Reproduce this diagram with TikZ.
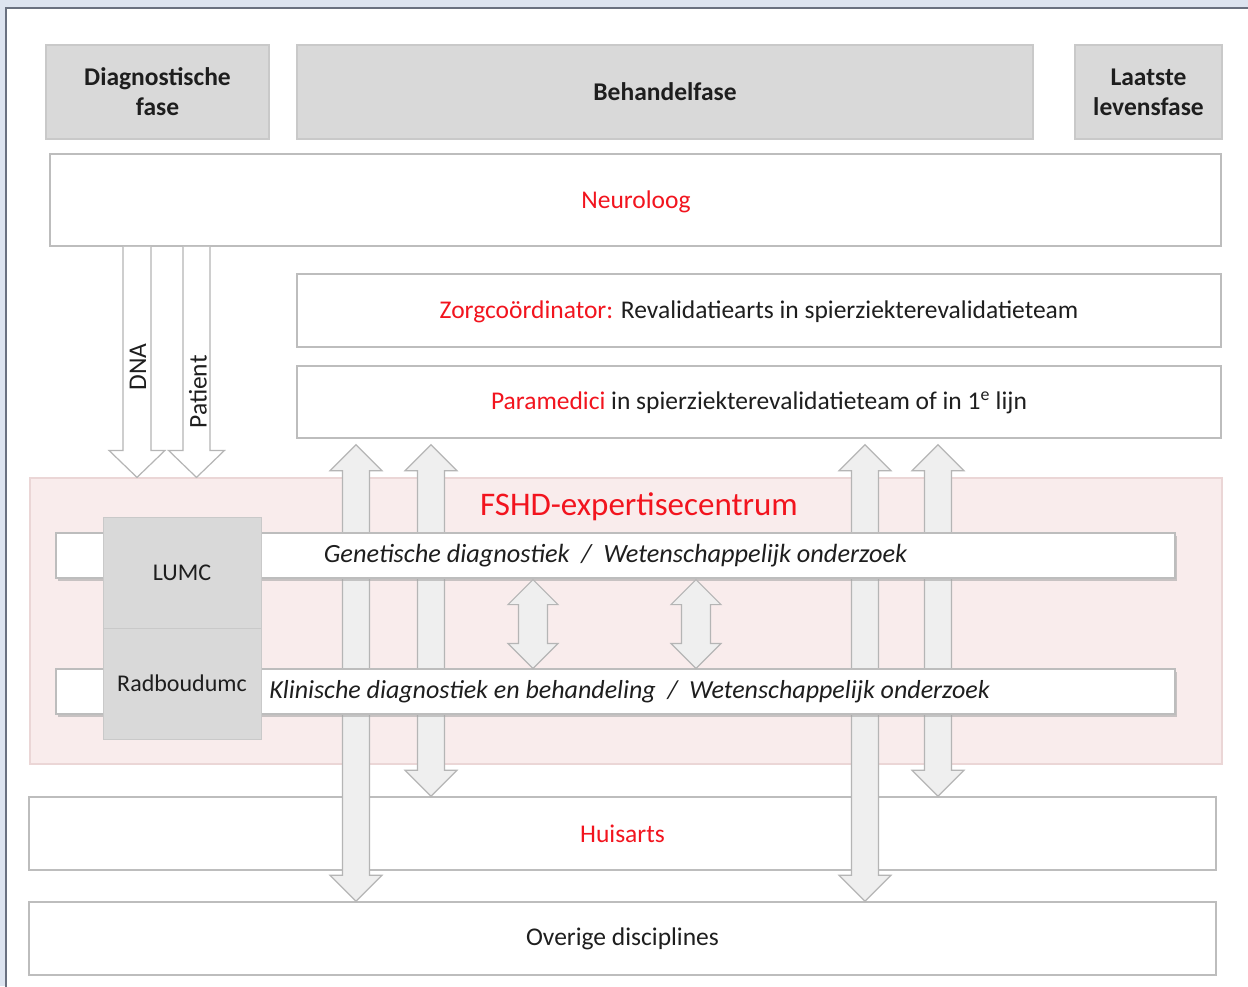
\documentclass[tikz,border=0pt]{standalone}
\usepackage{fontspec}
\setmainfont{Carlito}
\usetikzlibrary{calc,shadows}
\definecolor{bgblue}{HTML}{DDE4F0}
\definecolor{panelline}{HTML}{6A7180}
\definecolor{phasegray}{HTML}{D9D9D9}
\definecolor{phaseline}{HTML}{C9C9C9}
\definecolor{boxline}{HTML}{BDBDBD}
\definecolor{pinkbg}{HTML}{F9ECEC}
\definecolor{pinkline}{HTML}{EBD6D6}
\definecolor{arrfill}{HTML}{EFEFEF}
\definecolor{arrline}{HTML}{B5B5B5}
\definecolor{redtxt}{HTML}{F2141E}
\definecolor{txt}{HTML}{1E1E1E}
\newcommand{\dblarr}[5]{%
  \draw[arrowbox] (#1) -- ($(#1)+(#3,#5)$) -- ($(#1)+(#4,#5)$) -- ($(#2)+(#4,-#5)$) -- ($(#2)+(#3,-#5)$) -- (#2) -- ($(#2)+(-#3,-#5)$) -- ($(#2)+(-#4,-#5)$) -- ($(#1)+(-#4,#5)$) -- ($(#1)+(-#3,#5)$) -- cycle;}
\newcommand{\downarr}[5]{%
  \draw[whitearrow] ($(#1)+(-#4,0)$) -- ($(#2)+(-#4,-#5)$) -- ($(#2)+(-#3,-#5)$) -- (#2) -- ($(#2)+(#3,-#5)$) -- ($(#2)+(#4,-#5)$) -- ($(#1)+(#4,0)$);}
\begin{document}
\begin{tikzpicture}[x=1pt,y=-1pt,
  every node/.style={text=txt, font=\fontsize{25.5}{30}\selectfont},
  phase/.style={draw=phaseline, fill=phasegray, line width=1.2pt, inner sep=0pt, align=center, font=\bfseries\fontsize{25.5}{30}\selectfont},
  wbox/.style={draw=boxline, fill=white, line width=1.5pt, inner sep=0pt},
  strip/.style={draw=boxline, fill=white, line width=1.2pt, inner sep=0pt, drop shadow={shadow xshift=1.5pt, shadow yshift=-2.5pt, fill=black!35, opacity=0.6}},
  inst/.style={draw=phaseline, fill=phasegray, line width=1pt, inner sep=0pt, font=\fontsize{24}{28}\selectfont},
  arrowbox/.style={draw=arrline, fill=arrfill, line width=1.2pt, line join=miter},
  whitearrow/.style={draw=arrline, fill=white, line width=1.2pt, line join=miter},
  lbl/.style={inner sep=0pt}
]
\useasboundingbox (0,0) rectangle (1248,986);
\clip (0,0) rectangle (1248,986);
\fill[bgblue] (0,0) rectangle (1248,986);
\draw[panelline, fill=white, line width=1.2pt] (6,8) rectangle (1270,1010);

% phases
\node[phase, minimum width=223pt, minimum height=94pt] (diag) at (157.5,92) {Diagnostische\\fase};
\node[phase, minimum width=736pt, minimum height=94pt] (beh) at (665,92) {Behandelfase};
\node[phase, minimum width=147pt, minimum height=94pt] (laat) at (1148.5,92) {Laatste\\levensfase};

% rows
\node[wbox, minimum width=1171pt, minimum height=92pt] (neuro) at (635.5,200) {};
\node[lbl, text=redtxt] (neurotxt) at (636,202) {Neuroloog};
\node[wbox, minimum width=924pt, minimum height=73pt] (zorg) at (759,310.5) {};
\node[lbl] (zorgtxt) at (759,312) {\textcolor{redtxt}{Zorgcoördinator:} Revalidatiearts in spierziekterevalidatieteam};
\node[wbox, minimum width=924pt, minimum height=72pt] (para) at (759,402) {};
\node[lbl] (paratxt) at (759,403) {\textcolor{redtxt}{Paramedici} in spierziekterevalidatieteam of in 1\textsuperscript{e} lijn};

\node[draw=pinkline, fill=pinkbg, line width=1.2pt, minimum width=1192pt, minimum height=286pt, inner sep=0pt] (fshd) at (626,621) {};

\node[wbox, minimum width=1187pt, minimum height=73pt] (huis) at (622.5,833.5) {\textcolor{redtxt}{Huisarts}};
\node[wbox, minimum width=1187pt, minimum height=73pt] (over) at (622.5,938.5) {Overige disciplines};

% DNA / Patient arrows
\coordinate (dnaT) at (137,0 |- neuro.south);
\coordinate (dnaB) at (137,0 |- fshd.north);
\coordinate (patT) at (196.5,0 |- neuro.south);
\coordinate (patB) at (196.5,0 |- fshd.north);
\downarr{dnaT}{dnaB}{28}{14}{27}
\downarr{patT}{patB}{28}{13.5}{27}
\node[rotate=90] (dna) at (138,367) {DNA};
\node[rotate=90] (pat) at (198,392) {Patient};

% long double arrows
\coordinate (a1t) at ($(356,0 |- para.south)+(0,6)$);
\coordinate (a1b) at (356,0 |- over.north);
\coordinate (a2t) at ($(431,0 |- para.south)+(0,6)$);
\coordinate (a2b) at (431,0 |- huis.north);
\coordinate (a3t) at ($(865,0 |- para.south)+(0,6)$);
\coordinate (a3b) at (865,0 |- over.north);
\coordinate (a4t) at ($(938,0 |- para.south)+(0,6)$);
\coordinate (a4b) at (938,0 |- huis.north);
\dblarr{a1t}{a1b}{26}{13.5}{26}
\dblarr{a2t}{a2b}{26}{13.5}{26}
\dblarr{a3t}{a3b}{26}{13.5}{26}
\dblarr{a4t}{a4b}{26}{13.5}{26}

% strips
\node[strip, minimum width=1119pt, minimum height=45pt] (gen) at (615.5,555.5) {};
\node[strip, minimum width=1119pt, minimum height=45pt] (klin) at (615.5,691.5) {};
\node[font=\itshape\fontsize{26.3}{30}\selectfont] (gentxt) at (615.5,556) {Genetische diagnostiek \ / \ Wetenschappelijk onderzoek};
\node[font=\itshape\fontsize{26}{30}\selectfont] (klintxt) at (629.5,692) {Klinische diagnostiek en behandeling \ / \ Wetenschappelijk onderzoek};

% institutions
\node[inst, minimum width=158pt, minimum height=111pt] (lumc) at (182,572.5) {LUMC};
\node[inst, minimum width=158pt, minimum height=111pt] (radb) at (182,683.5) {Radboudumc};

% small double arrows
\coordinate (s1t) at ($(533,0 |- gen.south)+(0,1)$);
\coordinate (s1b) at (533,0 |- klin.north);
\coordinate (s2t) at ($(696,0 |- gen.south)+(0,1)$);
\coordinate (s2b) at (696,0 |- klin.north);
\dblarr{s1t}{s1b}{25}{14.5}{25}
\dblarr{s2t}{s2b}{25}{14.5}{25}

\node[font=\fontsize{33}{38}\selectfont, text=redtxt] (title) at (639,507) {FSHD-expertisecentrum};
\end{tikzpicture}
\end{document}
